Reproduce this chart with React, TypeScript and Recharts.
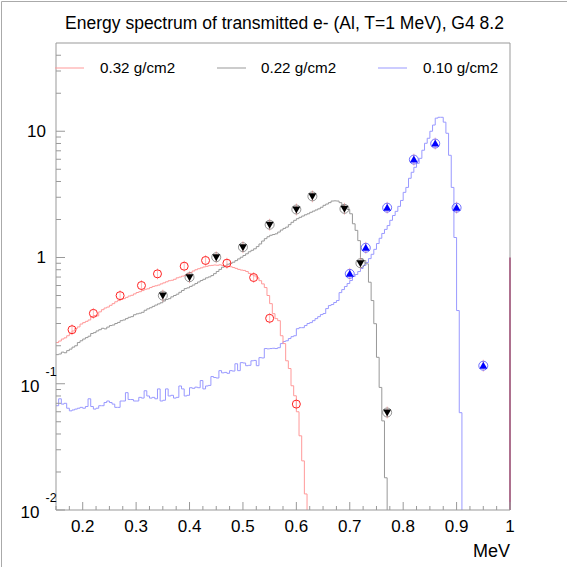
import React from 'react';
import { ComposedChart, Line, Scatter, XAxis, YAxis, ReferenceLine } from 'recharts';

// histogram bins: lower edge = BIN_START + i * BIN_WIDTH (MeV)
const BIN_START = 0.15;
const BIN_WIDTH = 0.005;
const EMPTY = 0.001; // empty bin (below the axis floor)

// 0.32 g/cm2 (red histogram)
const red032 = [
  0.212, 0.218, 0.226, 0.231, 0.240, 0.249, 0.262, 0.274, 0.282, 0.297,
  0.305, 0.312, 0.320, 0.338, 0.347, 0.345, 0.371, 0.386, 0.398, 0.405,
  0.418, 0.431, 0.446, 0.456, 0.465, 0.472, 0.483, 0.495, 0.502, 0.515,
  0.528, 0.536, 0.547, 0.560, 0.565, 0.578, 0.590, 0.597, 0.605, 0.618,
  0.630, 0.642, 0.655, 0.660, 0.672, 0.690, 0.700, 0.712, 0.722, 0.745,
  0.760, 0.782, 0.800, 0.815, 0.828, 0.842, 0.851, 0.862, 0.866, 0.872,
  0.868, 0.875, 0.864, 0.858, 0.852, 0.845, 0.833, 0.820, 0.805, 0.795,
  0.790, 0.775, 0.748, 0.730, 0.715, 0.690, 0.655, 0.618, 0.578, 0.500,
  0.431, 0.359, 0.328, 0.316, 0.240, 0.208, 0.152, 0.132, 0.0964, 0.0803,
  0.060, 0.0387, 0.0245, 0.0134,
];

// 0.22 g/cm2 (gray histogram)
const gray022 = [
  0.170, 0.172, 0.178, 0.176, 0.183, 0.188, 0.195, 0.200, 0.212, 0.219,
  0.226, 0.232, 0.238, 0.250, 0.254, 0.262, 0.268, 0.275, 0.272, 0.281,
  0.289, 0.292, 0.300, 0.306, 0.316, 0.320, 0.328, 0.336, 0.340, 0.352,
  0.358, 0.362, 0.368, 0.382, 0.392, 0.400, 0.410, 0.420, 0.429, 0.438,
  0.452, 0.465, 0.472, 0.488, 0.500, 0.512, 0.530, 0.548, 0.567, 0.575,
  0.590, 0.605, 0.622, 0.640, 0.657, 0.672, 0.690, 0.702, 0.719, 0.745,
  0.775, 0.805, 0.838, 0.860, 0.885, 0.900, 0.918, 0.945, 0.975, 1.005,
  1.037, 1.070, 1.110, 1.140, 1.172, 1.220, 1.280, 1.350, 1.410, 1.460,
  1.500, 1.520, 1.540, 1.590, 1.650, 1.700, 1.740, 1.820, 1.900, 1.970,
  2.030, 2.080, 2.130, 2.180, 2.220, 2.280, 2.330, 2.380, 2.430, 2.500,
  2.590, 2.650, 2.720, 2.800, 2.810, 2.800, 2.720, 2.590, 2.510, 2.400,
  2.220, 1.850, 1.640, 1.360, 0.977, 0.947, 0.891, 0.637, 0.456, 0.299,
  0.162, 0.0935, 0.0508, 0.018,
];

// 0.10 g/cm2 (blue histogram)
const blue010 = [
  0.067, 0.076, 0.069, 0.070, 0.064, 0.061, 0.062, 0.063, 0.064, 0.065,
  0.064, 0.066, 0.076, 0.066, 0.063, 0.064, 0.067, 0.067, 0.071, 0.073,
  0.071, 0.069, 0.065, 0.065, 0.073, 0.073, 0.085, 0.075, 0.075, 0.073,
  0.073, 0.078, 0.077, 0.088, 0.080, 0.077, 0.078, 0.076, 0.091, 0.073,
  0.074, 0.091, 0.080, 0.081, 0.077, 0.078, 0.096, 0.091, 0.080, 0.081,
  0.093, 0.092, 0.094, 0.093, 0.106, 0.091, 0.096, 0.097, 0.114, 0.112,
  0.111, 0.127, 0.122, 0.123, 0.121, 0.127, 0.126, 0.144, 0.127, 0.147,
  0.146, 0.139, 0.140, 0.152, 0.153, 0.139, 0.161, 0.160, 0.190, 0.189,
  0.190, 0.191, 0.190, 0.193, 0.208, 0.216, 0.219, 0.228, 0.236, 0.240,
  0.273, 0.278, 0.278, 0.289, 0.300, 0.305, 0.316, 0.328, 0.340, 0.353,
  0.360, 0.394, 0.416, 0.424, 0.440, 0.456, 0.527, 0.557, 0.589, 0.622,
  0.657, 0.707, 0.733, 0.774, 0.818, 0.864, 0.912, 0.980, 1.06, 1.16,
  1.29, 1.42, 1.55, 1.67, 1.79, 1.97, 2.15, 2.32, 2.54, 2.83,
  3.28, 3.59, 4.24, 4.73, 5.18, 5.57, 6.10, 7.07, 8.03, 8.80,
  10.0, 11.2, 12.7, 12.9, 12.9, 11.8, 9.64, 6.45, 3.59, 1.44,
  0.38, 0.059,
];

// measured points
const redPtsE = [0.18, 0.22, 0.27, 0.31, 0.34, 0.39, 0.43, 0.47, 0.52, 0.55, 0.60];
const redPtsV = [0.268, 0.361, 0.499, 0.600, 0.742, 0.853, 0.947, 0.901, 0.694, 0.330, 0.069];
const blackPtsE = [0.35, 0.40, 0.45, 0.50, 0.55, 0.60, 0.63, 0.69, 0.72, 0.77];
const blackPtsV = [0.499, 0.698, 1.005, 1.207, 1.818, 2.40, 3.05, 2.43, 0.901, 0.0592];
const bluePtsE = [0.70, 0.73, 0.77, 0.82, 0.86, 0.90, 0.95];
const bluePtsV = [0.742, 1.194, 2.48, 5.96, 7.99, 2.48, 0.139];

const xTicks = [
  0.15, 0.175, 0.2, 0.225, 0.25, 0.275, 0.3, 0.325, 0.35, 0.375, 0.4, 0.425, 0.45, 0.475,
  0.5, 0.525, 0.55, 0.575, 0.6, 0.625, 0.65, 0.675, 0.7, 0.725, 0.75, 0.775, 0.8, 0.825,
  0.85, 0.875, 0.9, 0.925, 0.95, 0.975, 1,
];
const yTicks = [
  0.01, 0.02, 0.03, 0.04, 0.05, 0.06, 0.07, 0.08, 0.09,
  0.1, 0.2, 0.3, 0.4, 0.5, 0.6, 0.7, 0.8, 0.9,
  1, 2, 3, 4, 5, 6, 7, 8, 9,
  10, 20, 30, 40,
];

const legendItems = [
  { label: '0.32 g/cm2', color: '#ff9999' },
  { label: '0.22 g/cm2', color: '#999999' },
  { label: '0.10 g/cm2', color: '#9999ff' },
];

const FONT = '"Liberation Sans", Arial, Helvetica, sans-serif';
const AXIS = '#999999';

const toHist = (vals: number[]) => {
  const rows = vals.map((v, i) => ({ e: +(BIN_START + i * BIN_WIDTH).toFixed(4), v }));
  rows.push({ e: +(BIN_START + vals.length * BIN_WIDTH).toFixed(4), v: EMPTY });
  return rows;
};
const toPts = (es: number[], vs: number[]) => es.map((e, i) => ({ e, v: vs[i] }));

const redHist = toHist(red032);
const grayHist = toHist(gray022);
const blueHist = toHist(blue010);
const redPts = toPts(redPtsE, redPtsV);
const blackPts = toPts(blackPtsE, blackPtsV);
const bluePts = toPts(bluePtsE, bluePtsV);

const YTick = (props: any) => {
  const { x, y, payload } = props;
  const v = payload.value as number;
  const lg = Math.log10(v);
  const exp = Math.round(lg);
  const major = Math.abs(lg - exp) < 1e-6;
  const len = major ? 9 : 5;
  let label: React.ReactNode = null;
  if (major) {
    if (exp >= 0) {
      label = (
        <text x={x - 10} y={y + 6} textAnchor="end" fontSize={17} fontFamily={FONT} fill="#000">
          {exp === 0 ? '1' : '10'}
        </text>
      );
    } else {
      label = (
        <g>
          <text x={x - 16.5} y={y + 8} textAnchor="end" fontSize={17} fontFamily={FONT} fill="#000">
            10
          </text>
          <text x={x - 10.5} y={y - 8} textAnchor="start" fontSize={12.5} fontFamily={FONT} fill="#000">
            {String(exp)}
          </text>
        </g>
      );
    }
  }
  return (
    <g>
      <line x1={x} x2={x + len} y1={y} y2={y} stroke={AXIS} strokeWidth={1} />
      {label}
    </g>
  );
};

const XTick = (props: any) => {
  const { x, y, payload } = props;
  const v = payload.value as number;
  const major = Math.abs(v * 10 - Math.round(v * 10)) < 1e-6;
  const len = major ? 8 : 4;
  return (
    <g>
      <line x1={x} x2={x} y1={y} y2={y - len} stroke={AXIS} strokeWidth={1} />
      {major && (
        <text x={x} y={y + 22} textAnchor="middle" fontSize={17} fontFamily={FONT} fill="#000">
          {v === 1 ? '1' : v.toFixed(1)}
        </text>
      )}
    </g>
  );
};

const CircleMarker = (p: any) => {
  const { cx, cy } = p;
  return (
    <g>
      <line x1={cx} x2={cx} y1={cy - 5.5} y2={cy + 5.5} stroke="#ff9999" strokeWidth={0.7} />
      <circle cx={cx} cy={cy} r={4} fill="none" stroke="#ff2020" strokeWidth={1} />
    </g>
  );
};

const DownTriangle = (p: any) => {
  const { cx, cy } = p;
  return (
    <g>
      <line x1={cx} x2={cx} y1={cy - 6} y2={cy + 6} stroke="#ff9999" strokeWidth={0.7} />
      <circle cx={cx} cy={cy} r={4.5} fill="none" stroke="#666" strokeWidth={0.7} />
      <polygon points={`${cx - 4},${cy - 3} ${cx + 4},${cy - 3} ${cx},${cy + 4}`} fill="#000" />
    </g>
  );
};

const UpTriangle = (p: any) => {
  const { cx, cy } = p;
  return (
    <g>
      <line x1={cx} x2={cx} y1={cy - 6} y2={cy + 6} stroke="#ff9999" strokeWidth={0.7} />
      <circle cx={cx} cy={cy} r={4.5} fill="none" stroke="#3333ff" strokeWidth={0.7} />
      <polygon points={`${cx - 4},${cy + 3} ${cx + 4},${cy + 3} ${cx},${cy - 4}`} fill="#0000ff" />
    </g>
  );
};

export default function App() {
  return (
    <div style={{ position: 'absolute', left: 0, top: 0, width: 567, height: 567, background: '#fff' }}>
      <ComposedChart width={567} height={567} margin={{ top: 43, right: 57, bottom: 0, left: 0 }}>
        <XAxis
          type="number"
          dataKey="e"
          domain={[0.15, 1]}
          allowDataOverflow
          ticks={xTicks}
          interval={0}
          height={57}
          tickSize={0}
          tickMargin={0}
          tickLine={false}
          axisLine={{ stroke: AXIS }}
          tick={<XTick />}
        />
        <YAxis
          type="number"
          dataKey="v"
          scale="log"
          domain={[0.01, 50]}
          allowDataOverflow
          ticks={yTicks}
          interval={0}
          width={56}
          tickSize={0}
          tickMargin={0}
          tickLine={false}
          axisLine={{ stroke: AXIS }}
          tick={<YTick />}
        />
        <ReferenceLine y={50} stroke={AXIS} ifOverflow="visible" />
        <ReferenceLine x={1} stroke={AXIS} ifOverflow="visible" />
        <Line data={blueHist} dataKey="v" type="stepAfter" stroke="#9999ff" strokeWidth={1} dot={false} activeDot={false} isAnimationActive={false} />
        <Line data={grayHist} dataKey="v" type="stepAfter" stroke="#999999" strokeWidth={1} dot={false} activeDot={false} isAnimationActive={false} />
        <Line data={redHist} dataKey="v" type="stepAfter" stroke="#ff9999" strokeWidth={1} dot={false} activeDot={false} isAnimationActive={false} />
        <ReferenceLine segment={[{ x: 1, y: 0.01 }, { x: 1, y: 1 }]} stroke="#993366" strokeWidth={1.2} ifOverflow="visible" />
        <Scatter data={redPts} dataKey="v" shape={<CircleMarker />} isAnimationActive={false} />
        <Scatter data={blackPts} dataKey="v" shape={<DownTriangle />} isAnimationActive={false} />
        <Scatter data={bluePts} dataKey="v" shape={<UpTriangle />} isAnimationActive={false} />
      </ComposedChart>
      <svg
        width={567}
        height={567}
        style={{ position: 'absolute', left: 0, top: 0, pointerEvents: 'none' }}
      >
        <polyline points="1.5,567 1.5,1.5 567,1.5" fill="none" stroke="#aaaaaa" strokeWidth={1} />
        <text x={284.5} y={29} textAnchor="middle" fontSize={17.5} fontFamily={FONT} fill="#000">
          Energy spectrum of transmitted e- (Al, T=1 MeV), G4 8.2
        </text>
        {legendItems.map((it, i) => {
          const lx = [55, 217, 378][i];
          const tx = [100, 261, 423][i];
          return (
            <g key={it.label}>
              <line x1={lx} x2={lx + 29} y1={68} y2={68} stroke={it.color} strokeWidth={1} />
              <text x={tx} y={73} fontSize={15.2} fontFamily={FONT} fill="#000">
                {it.label}
              </text>
            </g>
          );
        })}
        <text x={510} y={557} textAnchor="end" fontSize={18} fontFamily={FONT} fill="#000">
          MeV
        </text>
      </svg>
    </div>
  );
}
